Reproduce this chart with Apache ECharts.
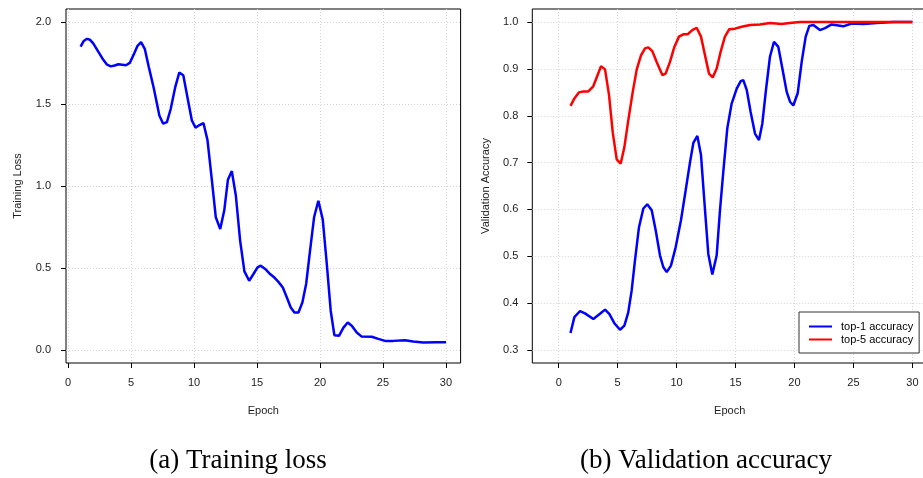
<!DOCTYPE html>
<html>
<head>
<meta charset="utf-8">
<script src="https://cdn.jsdelivr.net/npm/echarts@6/dist/echarts.min.js"></script>
<style>
    html, body { margin: 0; padding: 0; background: #fff; }
    #chartArea { width: 923px; height: 478px; }
</style>
</head>
<body>
<div id="chartArea"></div>
<script>
// 数据: 训练损失
const lossEpoch = [1.0, 1.25, 1.5, 1.75, 2.0, 2.4, 2.8, 3.1, 3.4, 3.7, 4.0, 4.3, 4.6, 4.9, 5.2, 5.5, 5.8, 6.1, 6.4, 6.8,
    7.25, 7.55, 7.85, 8.15, 8.5, 8.83, 9.15, 9.5, 9.83, 10.12, 10.44, 10.75, 11.07, 11.42, 11.73, 12.08, 12.4, 12.69, 13.0, 13.32,
    13.66, 14.0, 14.38, 14.72, 15.04, 15.3, 15.65, 16.04, 16.4, 16.7, 17.05, 17.37, 17.68, 17.97, 18.29, 18.6, 18.9, 19.21, 19.53, 19.87,
    20.22, 20.54, 20.85, 21.14, 21.51, 21.86, 22.2, 22.52, 22.92, 23.31, 24.11, 24.63, 25.16, 25.82, 26.75, 27.4, 28.2, 29.26, 30.0];
const lossValue = [1.85, 1.885, 1.898, 1.892, 1.87, 1.82, 1.77, 1.74, 1.73, 1.735, 1.743, 1.74, 1.737, 1.751, 1.80, 1.853, 1.878, 1.835, 1.73, 1.60,
    1.43, 1.38, 1.39, 1.47, 1.60, 1.692, 1.676, 1.533, 1.40, 1.356, 1.372, 1.384, 1.28, 1.034, 0.809, 0.738, 0.85, 1.038, 1.091, 0.942,
    0.667, 0.479, 0.422, 0.463, 0.503, 0.514, 0.494, 0.463, 0.44, 0.415, 0.381, 0.32, 0.259, 0.228, 0.228, 0.289, 0.402, 0.606, 0.809, 0.91,
    0.795, 0.524, 0.239, 0.09, 0.086, 0.136, 0.167, 0.147, 0.106, 0.081, 0.08, 0.067, 0.055, 0.055, 0.059, 0.051, 0.045, 0.047, 0.047];

// 数据: top-1 验证准确率
const top1Epoch = [1.0, 1.33, 1.81, 2.23, 2.94, 3.5, 3.93, 4.29, 4.72, 5.2, 5.57, 5.9, 6.19, 6.47, 6.81, 7.18, 7.51, 7.89, 8.23, 8.59,
    8.87, 9.16, 9.52, 9.92, 10.37, 10.77, 11.14, 11.42, 11.76, 12.07, 12.35, 12.69, 13.03, 13.4, 13.68, 13.96, 14.3, 14.67, 15.1, 15.44,
    15.66, 15.95, 16.28, 16.65, 16.99, 17.27, 17.58, 17.92, 18.26, 18.63, 19.0, 19.34, 19.62, 19.9, 20.27, 20.61, 20.95, 21.26, 21.6, 22.16,
    22.59, 23.15, 24.14, 24.85, 25.84, 26.97, 28.38, 29.65, 30.0];
const top1Value = [0.336, 0.37, 0.383, 0.378, 0.366, 0.377, 0.386, 0.377, 0.357, 0.343, 0.352, 0.38, 0.427, 0.491, 0.562, 0.602, 0.611, 0.598, 0.555, 0.502,
    0.477, 0.466, 0.48, 0.519, 0.577, 0.641, 0.701, 0.742, 0.757, 0.716, 0.619, 0.505, 0.461, 0.502, 0.598, 0.68, 0.773, 0.826, 0.858, 0.874,
    0.876, 0.855, 0.808, 0.762, 0.748, 0.783, 0.855, 0.926, 0.958, 0.947, 0.897, 0.851, 0.83, 0.822, 0.848, 0.915, 0.969, 0.992, 0.994, 0.983,
    0.987, 0.995, 0.991, 0.997, 0.996, 0.998, 1.0, 1.0, 1.0];

// 数据: top-5 验证准确率
const top5Epoch = [1.0, 1.33, 1.72, 2.09, 2.51, 2.93, 3.27, 3.59, 3.93, 4.27, 4.58, 4.92, 5.26, 5.57, 5.9, 6.28, 6.62, 6.98, 7.32, 7.6,
    7.94, 8.31, 8.79, 9.07, 9.44, 9.81, 10.2, 10.57, 10.94, 11.33, 11.7, 12.07, 12.41, 12.75, 13.06, 13.4, 13.74, 14.1, 14.47, 14.95,
    15.52, 16.23, 17.07, 17.92, 18.91, 19.6, 20.47, 22.0, 25.0, 28.0, 30.0];
const top5Value = [0.821, 0.837, 0.85, 0.852, 0.852, 0.863, 0.885, 0.906, 0.899, 0.844, 0.765, 0.707, 0.698, 0.733, 0.79, 0.851, 0.899, 0.929, 0.944, 0.946,
    0.938, 0.915, 0.887, 0.89, 0.915, 0.947, 0.969, 0.974, 0.974, 0.983, 0.988, 0.969, 0.929, 0.89, 0.882, 0.901, 0.937, 0.969, 0.985, 0.986,
    0.99, 0.994, 0.995, 0.998, 0.996, 0.998, 1.0, 1.0, 1.0, 1.0, 1.0];

// 刻度
const epochTicks = [0, 5, 10, 15, 20, 25, 30];
const lossTicks = [0, 0.5, 1.0, 1.5, 2.0];
const accTicks = [0.3, 0.4, 0.5, 0.6, 0.7, 0.8, 0.9, 1.0];

const seriesNames = ['top-1 accuracy', 'top-5 accuracy'];
const captions = ['(a) Training loss', '(b) Validation accuracy'];

const FONT = '"Liberation Sans", Arial, sans-serif';

// 合并 x/y
function zip(xs, ys) {
    return xs.map((x, i) => [x, ys[i]]);
}

function gridLine() {
    return { show: true, lineStyle: { color: '#d3d3d3', width: 1, type: [1, 2] } };
}

function xAxis(gridIndex, min, max) {
    return {
        type: 'value',
        gridIndex: gridIndex,
        position: 'bottom',
        min: min,
        max: max,
        axisLine: { show: false, onZero: false },
        axisTick: { show: true, inside: false, length: 5, customValues: epochTicks, lineStyle: { color: '#000' } },
        axisLabel: { customValues: epochTicks, margin: 14, fontSize: 11, color: '#222', fontFamily: FONT },
        splitLine: gridLine(),
        name: 'Epoch',
        nameLocation: 'middle',
        nameGap: 42,
        nameTextStyle: { fontSize: 11, color: '#222', fontFamily: FONT }
    };
}

function yAxis(gridIndex, min, max, ticks, name, gap, margin) {
    return {
        type: 'value',
        gridIndex: gridIndex,
        position: 'left',
        min: min,
        max: max,
        splitNumber: 7,
        axisLine: { show: false, onZero: false },
        axisTick: { show: true, inside: false, length: 5, customValues: ticks, lineStyle: { color: '#000' } },
        axisLabel: {
            customValues: ticks, margin: margin, fontSize: 11, color: '#222', fontFamily: FONT,
            formatter: v => v.toFixed(1)
        },
        splitLine: gridLine(),
        name: name,
        nameLocation: 'middle',
        nameGap: gap,
        nameTextStyle: { fontSize: 11, color: '#222', fontFamily: FONT }
    };
}

function box(left, width) {
    return {
        left: left, top: 9, width: width, height: 354,
        show: true, borderColor: '#000', borderWidth: 1, backgroundColor: 'transparent',
        outerBoundsMode: 'none'
    };
}

document.addEventListener('DOMContentLoaded', function() {
    const chart = echarts.init(document.getElementById('chartArea'), null, { renderer: 'canvas' });

    const option = {
        backgroundColor: '#fff',
        animation: false,
        grid: [box(66, 394.6), box(532.3, 394.7)],
        xAxis: [xAxis(0, -0.16, 31.16), xAxis(1, -2.24, 31.24)],
        yAxis: [
            yAxis(0, -0.08, 2.08, lossTicks, 'Training Loss', 43, 15),
            yAxis(1, 0.272, 1.028, accTicks, 'Validation Accuracy', 41, 14)
        ],
        legend: {
            data: seriesNames,
            orient: 'vertical',
            left: 799,
            top: 312,
            icon: 'rect',
            itemWidth: 23,
            itemHeight: 2,
            itemGap: 0,
            padding: [8, 6, 7, 10],
            borderColor: '#333',
            borderWidth: 1,
            borderRadius: 0,
            backgroundColor: '#fff',
            textStyle: { fontSize: 11, lineHeight: 13, color: '#000', fontFamily: FONT, padding: [0, 0, 0, 4] }
        },
        graphic: captions.map((text, i) => ({
            type: 'text',
            x: i === 0 ? 238 : 706,
            y: 461,
            style: {
                text: text,
                font: '27px "Liberation Serif", serif',
                fill: '#000',
                textAlign: 'center',
                textVerticalAlign: 'middle'
            }
        })),
        series: [
            {
                name: 'Training Loss',
                type: 'line',
                xAxisIndex: 0,
                yAxisIndex: 0,
                data: zip(lossEpoch, lossValue),
                showSymbol: false,
                lineStyle: { color: '#0000ff', width: 2.5 },
                itemStyle: { color: '#0000ff' }
            },
            {
                name: seriesNames[0],
                type: 'line',
                xAxisIndex: 1,
                yAxisIndex: 1,
                data: zip(top1Epoch, top1Value),
                showSymbol: false,
                lineStyle: { color: '#0000ff', width: 2.5 },
                itemStyle: { color: '#0000ff' }
            },
            {
                name: seriesNames[1],
                type: 'line',
                xAxisIndex: 1,
                yAxisIndex: 1,
                data: zip(top5Epoch, top5Value),
                showSymbol: false,
                lineStyle: { color: '#ff0000', width: 2.5 },
                itemStyle: { color: '#ff0000' }
            }
        ]
    };

    chart.setOption(option);
});
</script>
</body>
</html>
